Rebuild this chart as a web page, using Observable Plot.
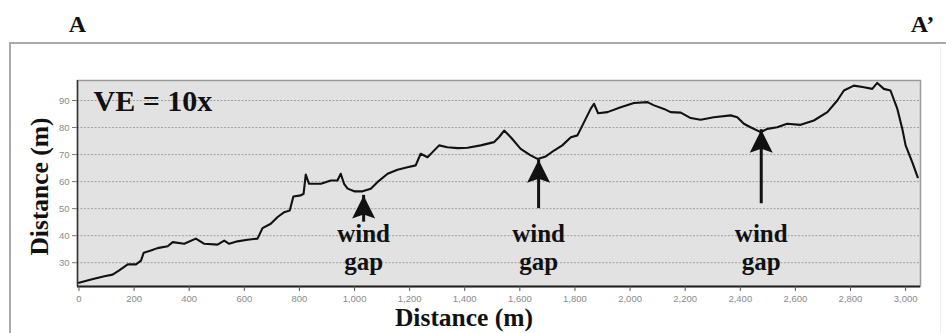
<!DOCTYPE html>
<html>
<head>
<meta charset="utf-8">
<script src="https://cdn.jsdelivr.net/npm/d3@7"></script>
<script src="https://cdn.jsdelivr.net/npm/@observablehq/plot@0.6"></script>
<style>
  html, body { margin: 0; padding: 0; background: #fff; }
  #wrap { position: relative; width: 946px; height: 333px; overflow: hidden; }
  #box { position: absolute; left: 9px; top: 42px; width: 940px; height: 320px;
         border-top: 2px solid #a9a9a9; border-left: 2px solid #a9a9a9; }
  #box2 { position: absolute; left: 940px; top: 46px; width: 0; height: 300px; border-left: 1px solid #eee; }
  #chart { position: absolute; left: 0; top: 0; }
</style>
</head>
<body>
<div id="wrap"><div id="box"></div><div id="box2"></div><div id="chart"></div></div>
<script>
// Profile data (distance along A–A', elevation in m)
const distance = [0, 44, 92, 122, 146, 177, 207, 225, 235, 261, 285, 322, 340, 382, 424, 455, 503, 527, 545, 575, 612, 648, 666, 696, 721, 745, 765, 778, 805, 815, 823, 835, 878, 914, 938, 950, 962, 975, 999, 1029, 1059, 1083, 1120, 1156, 1192, 1222, 1240, 1265, 1283, 1307, 1337, 1374, 1410, 1458, 1506, 1525, 1543, 1567, 1603, 1639, 1664, 1694, 1724, 1754, 1785, 1809, 1833, 1857, 1869, 1884, 1918, 1966, 2014, 2063, 2087, 2123, 2147, 2184, 2220, 2256, 2304, 2365, 2389, 2413, 2437, 2474, 2498, 2534, 2570, 2619, 2667, 2716, 2752, 2776, 2812, 2849, 2879, 2897, 2921, 2945, 2970, 2988, 3000, 3024, 3044];
const elevation = [22.6, 23.8, 25.0, 25.6, 27.2, 29.4, 29.4, 30.8, 33.7, 34.5, 35.4, 36.1, 37.6, 37.0, 38.9, 37.0, 36.7, 38.2, 37.0, 37.9, 38.5, 38.9, 42.8, 44.4, 46.9, 48.7, 49.3, 54.5, 54.9, 55.5, 62.6, 59.2, 59.2, 60.4, 60.4, 62.9, 59.2, 57.4, 56.4, 56.4, 57.4, 59.8, 62.9, 64.4, 65.3, 66.0, 70.3, 69.0, 70.9, 73.4, 72.7, 72.4, 72.5, 73.4, 74.6, 76.5, 78.9, 76.4, 72.1, 69.7, 68.4, 69.3, 71.5, 73.4, 76.4, 77.1, 82.0, 86.9, 88.8, 85.3, 85.7, 87.5, 89.1, 89.4, 88.2, 86.9, 85.7, 85.5, 83.5, 82.9, 83.8, 84.5, 83.8, 81.4, 80.1, 78.3, 79.5, 80.1, 81.4, 81.0, 82.6, 85.7, 90.0, 93.7, 95.5, 94.9, 94.3, 96.5, 94.3, 93.7, 86.9, 79.5, 73.4, 67.2, 61.6];

// Tick values
const xTicks = [0, 200, 400, 600, 800, 1000, 1200, 1400, 1600, 1800, 2000, 2200, 2400, 2600, 2800, 3000];
const yTicks = [30, 40, 50, 60, 70, 80, 90];

// Wind gap annotations
const gapX = [1033, 1668, 2476];
const gapTip = [54.9, 68.1, 79.2];
const gapTail = [45.0, 50.0, 51.8];
const gapLabel = ["wind\ngap", "wind\ngap", "wind\ngap"];
const gapLabelY = [27.2, 27.2, 27.2];

const profile = distance.map((d, i) => ({d, e: elevation[i]}));
const gaps = gapX.map((x, i) => ({x, tip: gapTip[i], tail: gapTail[i], label: gapLabel[i], ly: gapLabelY[i]}));

const xDomain = [-5.4, 3054];
const yDomain = [21.2, 97.4];

const arrowHead = {
  draw(ctx) {
    ctx.moveTo(0, 0);
    ctx.lineTo(-11.5, 23);
    ctx.lineTo(0, 19);
    ctx.lineTo(11.5, 23);
    ctx.closePath();
  }
};

const serif = "'Liberation Serif', 'Times New Roman', serif";

const chart = Plot.plot({
  width: 946,
  height: 333,
  marginLeft: 77,
  marginRight: 26,
  marginTop: 80,
  marginBottom: 47,
  style: {background: "transparent", overflow: "visible"},
  x: {domain: xDomain, axis: null},
  y: {domain: yDomain, axis: null},
  marks: [
    Plot.frame({fill: "#e2e2e2", stroke: "#9a9a9a", strokeWidth: 1.5}),
    Plot.gridY(yTicks, {stroke: "#a0a0a0", strokeOpacity: 1, strokeDasharray: "2,1.5", strokeWidth: 1}),
    Plot.ruleY([yDomain[0]], {stroke: "#222", strokeWidth: 1.8}),
    Plot.ruleX([xDomain[0]], {stroke: "#333", strokeWidth: 1.5}),
    Plot.axisX(xTicks, {tickFormat: d3.format(","), tickSize: 5, tickPadding: 4, stroke: "#555", fill: "#8a8a8a",
      fontSize: 9.5, fontFamily: "'Liberation Sans', Arial, sans-serif", label: null}),
    Plot.axisY(yTicks, {tickSize: 5, tickPadding: 3, stroke: "#777", fill: "#8a8a8a",
      fontSize: 9.5, fontFamily: "'Liberation Sans', Arial, sans-serif", label: null}),
    Plot.line(profile, {x: "d", y: "e", stroke: "#111", strokeWidth: 2.1, curve: "linear"}),
    Plot.ruleX(gaps, {x: "x", y1: "tail", y2: "tip", stroke: "#111", strokeWidth: 3}),
    Plot.dot(gaps, {x: "x", y: "tip", symbol: arrowHead, fill: "#111", stroke: null}),
    Plot.text(gaps, {x: "x", y: "ly", text: "label", lineAnchor: "bottom", lineHeight: 1.12,
      fontSize: 25, fontWeight: "bold", fontFamily: serif, fill: "#111"}),
    Plot.text(["VE = 10x"], {frameAnchor: "top-left", dx: 16, dy: 30, lineAnchor: "bottom", textAnchor: "start",
      fontSize: 30, fontWeight: "bold", fontFamily: serif, fill: "#111"}),
    Plot.text(["A"], {frameAnchor: "top-left", dx: 0, dy: -49, lineAnchor: "bottom", textAnchor: "middle",
      fontSize: 24, fontWeight: "bold", fontFamily: serif, fill: "#111"}),
    Plot.text(["A\u2019"], {frameAnchor: "top-right", dx: 2, dy: -49, lineAnchor: "bottom", textAnchor: "middle",
      fontSize: 24, fontWeight: "bold", fontFamily: serif, fill: "#111"}),
    Plot.text(["Distance (m)"], {frameAnchor: "bottom", dx: -35, dy: 39, lineAnchor: "bottom", textAnchor: "middle",
      fontSize: 25.5, fontWeight: "bold", fontFamily: serif, fill: "#111"}),
    Plot.text(["Distance (m)"], {frameAnchor: "left", dx: -30, dy: 3, rotate: -90, lineAnchor: "bottom", textAnchor: "middle",
      fontSize: 25.5, fontWeight: "bold", fontFamily: serif, fill: "#111"})
  ]
});
document.getElementById("chart").appendChild(chart);
</script>
</body>
</html>
